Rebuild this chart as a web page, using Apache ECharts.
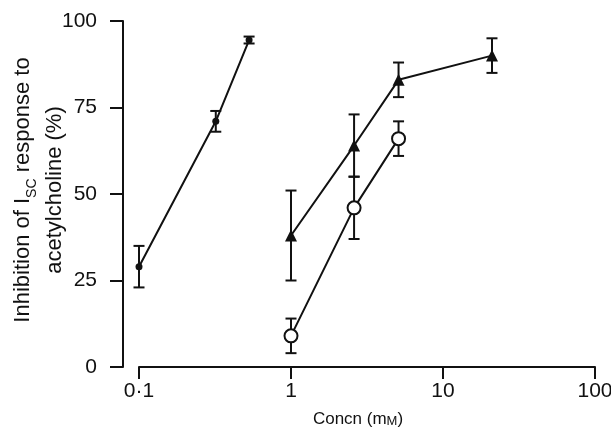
<!DOCTYPE html>
<html>
<head>
<meta charset="utf-8">
<script src="https://cdn.jsdelivr.net/npm/echarts@6/dist/echarts.min.js"></script>
<style>
html,body{margin:0;padding:0;background:#fff;}
#chart{width:611px;height:430px;}
</style>
</head>
<body>
<div id="chart"></div>
<script>
// Data
const xTickLabels = ['0·1', '1', '10', '100'];
const yTickValues = [0, 25, 50, 75, 100];

const dotX = [0.1, 0.32, 0.53];
const dotY = [29, 71, 94.5];
const dotErr = [6, 3, 1];

const triX = [1, 2.6, 5.1, 21];
const triY = [38, 64, 83, 90];
const triErr = [13, 9, 5, 5];

const openX = [1, 2.6, 5.1];
const openY = [9, 46, 66];
const openErr = [5, 9, 5];

const INK = '#111';
const FONT = 'Liberation Sans';

function pts(xs, ys) { return xs.map((x, i) => [x, ys[i]]); }
function errs(xs, ys, es) { return xs.map((x, i) => [x, ys[i] - es[i], ys[i] + es[i]]); }

function errorSeries(data) {
  return {
    type: 'custom',
    data: data,
    z: 1,
    silent: true,
    renderItem: function (params, api) {
      const x = api.value(0);
      const top = api.coord([x, api.value(2)]);
      const bot = api.coord([x, api.value(1)]);
      const hw = 5.5;
      const st = { stroke: INK, lineWidth: 2 };
      return {
        type: 'group',
        children: [
          { type: 'line', shape: { x1: top[0], y1: top[1], x2: bot[0], y2: bot[1] }, style: st },
          { type: 'line', shape: { x1: top[0] - hw, y1: top[1], x2: top[0] + hw, y2: top[1] }, style: st },
          { type: 'line', shape: { x1: bot[0] - hw, y1: bot[1], x2: bot[0] + hw, y2: bot[1] }, style: st }
        ]
      };
    }
  };
}

const chart = echarts.init(document.getElementById('chart'), null, { renderer: 'canvas' });
chart.setOption({
  animation: false,
  backgroundColor: '#fff',
  grid: { left: 139, right: 16, top: 21, bottom: 63, containLabel: false, outerBoundsMode: 'none' },
  xAxis: {
    type: 'log',
    logBase: 10,
    min: 0.1,
    max: 100,
    name: 'Concn (m{sc|M})',
    nameLocation: 'middle',
    nameGap: 44,
    nameMoveOverlap: false,
    nameTextStyle: {
      fontFamily: FONT, fontSize: 17, color: INK, padding: [0, 18, 0, 0],
      rich: { sc: { fontFamily: FONT, fontSize: 13, color: INK, verticalAlign: 'bottom', lineHeight: 17 } }
    },
    axisLine: { show: true, lineStyle: { color: INK, width: 2 } },
    axisTick: { show: true, inside: false, length: 12, lineStyle: { color: INK, width: 2 } },
    minorTick: { show: false },
    splitLine: { show: false },
    axisLabel: {
      margin: 14,
      fontFamily: FONT, fontSize: 21, color: INK,
      formatter: function (v, i) { return xTickLabels[i] !== undefined ? xTickLabels[i] : ''; }
    }
  },
  yAxis: {
    type: 'value',
    min: 0,
    max: 100,
    interval: 25,
    offset: 16,
    name: 'Inhibition of I{sub|SC} response to\nacetylcholine (%)',
    nameLocation: 'middle',
    nameRotate: 90,
    nameGap: 52,
    nameMoveOverlap: false,
    nameTextStyle: {
      fontFamily: FONT, fontSize: 22, color: INK, lineHeight: 32, align: 'center',
      padding: [0, 0, 0, 8],
      rich: { sub: { fontFamily: FONT, fontSize: 14, color: INK, verticalAlign: 'bottom', lineHeight: 24 } }
    },
    axisLine: { show: true, lineStyle: { color: INK, width: 2 } },
    axisTick: { show: true, inside: false, length: 13, lineStyle: { color: INK, width: 2 } },
    splitLine: { show: false },
    axisLabel: {
      margin: 26,
      fontFamily: FONT, fontSize: 21, color: INK,
      formatter: function (v) { return yTickValues.indexOf(v) >= 0 ? String(v) : ''; }
    }
  },
  series: [
    errorSeries(errs(dotX, dotY, dotErr)),
    errorSeries(errs(triX, triY, triErr)),
    errorSeries(errs(openX, openY, openErr)),
    {
      type: 'line', data: pts(dotX, dotY), z: 3,
      symbol: 'circle', symbolSize: 7,
      lineStyle: { color: INK, width: 2 },
      itemStyle: { color: INK, borderWidth: 0 }
    },
    {
      type: 'line', data: pts(triX, triY), z: 3,
      symbol: 'triangle', symbolSize: 12,
      lineStyle: { color: INK, width: 2 },
      itemStyle: { color: INK, borderWidth: 0 }
    },
    {
      type: 'line', data: pts(openX, openY), z: 4,
      symbol: 'circle', symbolSize: 13,
      lineStyle: { color: INK, width: 2 },
      itemStyle: { color: '#fff', borderColor: INK, borderWidth: 2 }
    }
  ]
});
</script>
</body>
</html>
